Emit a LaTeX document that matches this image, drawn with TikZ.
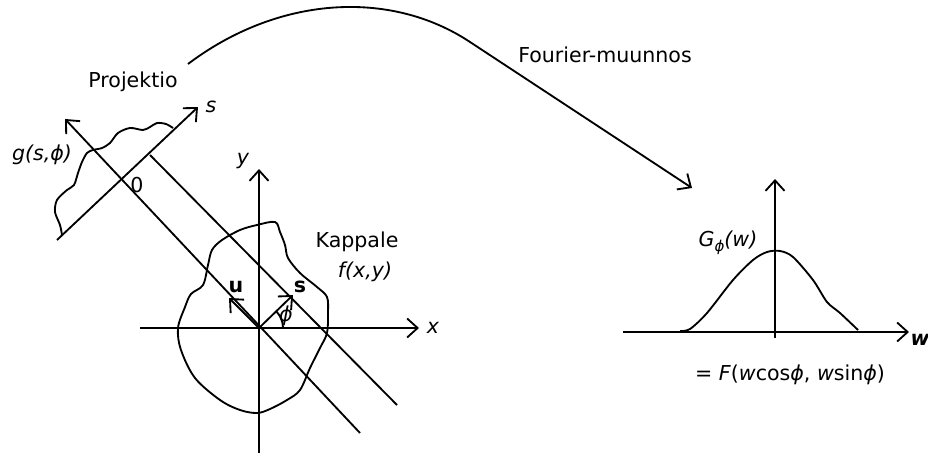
\documentclass[tikz,border=0pt]{standalone}
\usepackage{fontspec}
\setmainfont{DejaVu Sans}
\usepackage{tikz}
\usetikzlibrary{arrows.meta}
\tikzset{
  axisarrow/.style={-{Straight Barb[length=2.1mm,width=3.8mm]},line width=1.05pt},
  plainline/.style={line width=1.05pt},
  curveline/.style={line width=1.05pt,line join=round},
  figurelabel/.style={font=\fontsize{11.7}{14}\selectfont,inner sep=1pt},
  mathlabel/.style={font=\fontsize{11.7}{14}\selectfont\itshape,inner sep=1pt},
  vectorlabel/.style={font=\fontsize{11.7}{14}\selectfont\bfseries,inner sep=1pt}
}

\begin{document}
\begin{tikzpicture}[x=0.02cm,y=-0.02cm]
  \useasboundingbox (0,0) rectangle (928,459);
  % kappale ja koordinaatisto
  \coordinate (O) at (259,328);
  \coordinate (xstart) at (140,328);
  \coordinate (xtip) at (419,328);
  \coordinate (ystart) at (259,453);
  \coordinate (ytip) at (259,169);
  \draw[curveline] plot[smooth cycle,tension=0.55] coordinates {
    (257,225) (275,222) (280,232) (285,245) (288,258) (300,273) (317,287)
    (327,297) (328,313) (327,333) (320,348) (310,368) (300,390) (287,400)
    (270,409) (257,413) (240,410) (220,400) (195,378) (181,350) (178,328)
    (185,307) (191,294) (203,285) (208,265) (212,250) (222,240) (240,230)};
  \draw[axisarrow] (xstart) -- (xtip);
  \draw[axisarrow] (ystart) -- (ytip);
  \node[mathlabel] (xlab) at (433,328) {x};
  \node[mathlabel] (ylab) at (243,161) {y};
  \node[figurelabel] (kappale) at (357,242) {Kappale};
  \node[mathlabel] (fxy) at (365,272) {f(x,y)};
  % projektiosuorat
  \coordinate (utip) at (65,119);
  \coordinate (uend) at (360,433);
  \coordinate (bstart) at (150,155);
  \coordinate (bend) at (397,405);
  \draw[axisarrow] (uend) -- (utip);
  \draw[plainline] (bstart) -- (bend);
  % yksikkovektorit
  \coordinate (uvec) at (229,298);
  \coordinate (svec) at (293,295);
  \draw[axisarrow] (O) -- (uvec);
  \draw[axisarrow] (O) -- (svec);
  \node[vectorlabel] (ulab) at (236,287) {u};
  \node[vectorlabel] (slab) at (300,287) {s};
  \draw[plainline] ([shift={(24,0)}]O) arc[start angle=0,end angle=-45,radius=24];
  \node[mathlabel] (philab) at (286,316) {ϕ};
  % projektio
  \coordinate (sstart) at (57,240);
  \coordinate (stip) at (198,107);
  \draw[axisarrow] (sstart) -- (stip);
  \node[mathlabel] (saxlab) at (211,107) {s};
  \draw[curveline] plot[smooth,tension=0.5] coordinates {
    (62,235) (60,225) (55,212) (57,200) (67,190) (74,185) (78,173) (82,162)
    (87,153) (93,150) (102,148) (110,143) (118,133) (130,128) (143,130)
    (150,127) (157,123) (166,124) (173,128)};
  \node[mathlabel] (glab) at (42,155) {g(s,ϕ)};
  \node[figurelabel] (zero) at (137,185) {0};
  \node[figurelabel] (projektio) at (133,82) {Projektio};
  % Fourier-muunnos
  \coordinate (fstart) at (188,64);
  \coordinate (fmid) at (470,42);
  \coordinate (fend) at (692,188);
  \draw[axisarrow] (fstart) .. controls (278,-4) and (390,-11) .. (fmid) -- (fend);
  \node[figurelabel] (fourier) at (605,55) {Fourier-muunnos};
  % taajuustaso
  \coordinate (wstart) at (623,332);
  \coordinate (wtip) at (909,332);
  \coordinate (gstart) at (775,338);
  \coordinate (gtip) at (775,179);
  \draw[axisarrow] (wstart) -- (wtip);
  \draw[axisarrow] (gstart) -- (gtip);
  \draw[curveline] plot[smooth,tension=0.5] coordinates {
    (680,331) (690,329) (707,313) (733,280) (753,260) (767,252) (780,251)
    (793,257) (813,280) (827,302) (840,313) (858,330)};
  \node[mathlabel,font=\fontsize{11.7}{14}\selectfont\bfseries\itshape] (wlab) at (920,340) {w};
  \node[mathlabel] (Glab) at (728,243) {G\raisebox{-0.45ex}{\fontsize{8.5}{10}\selectfont ϕ}(w)};
  \node[figurelabel] (Fval) at (790,375) {= \textit{F}(\textit{w}cos\textit{ϕ}, \textit{w}sin\textit{ϕ})};
\end{tikzpicture}
\end{document}
